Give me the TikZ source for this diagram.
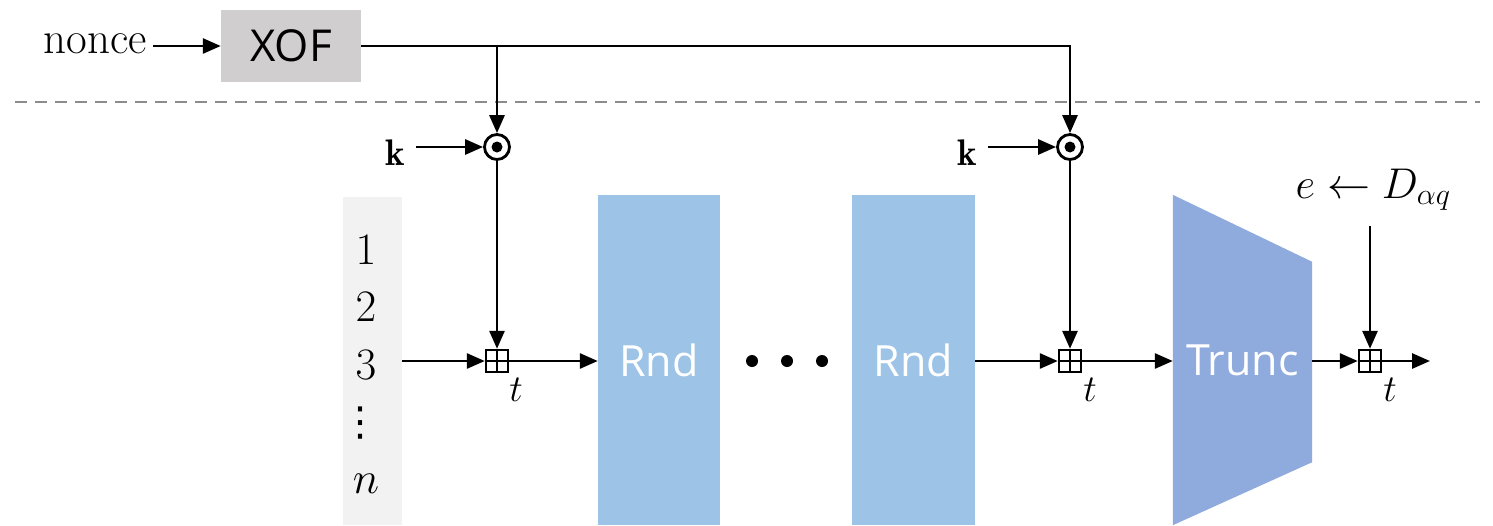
\RequirePackage{fix-cm}
\documentclass[tikz,border=0pt]{standalone}
\usepackage{fontspec}
\newfontfamily\sansf{Open Sans}
\newfontfamily\dejavu{DejaVu Sans}
\usetikzlibrary{arrows.meta,calc}
\definecolor{xofgray}{HTML}{D0CECE}
\definecolor{colgray}{HTML}{F2F2F2}
\definecolor{rndblue}{HTML}{9DC3E6}
\definecolor{truncblue}{HTML}{8FAADC}
\definecolor{dashgray}{HTML}{8C8C8C}
\begin{document}
\begin{tikzpicture}[x=1pt,y=-1pt,
  arr/.style={line width=2.8pt,-{Triangle[length=18pt,width=15pt]}},
  big/.style={font=\fontsize{45}{50}\selectfont},
  blk/.style={draw=none,inner sep=0,text=white,font=\sansf\fontsize{43}{50}\selectfont},
  odotc/.style={circle,draw,line width=2.8pt,minimum size=25pt,inner sep=0,fill=white,
    path picture={\fill[black] (path picture bounding box.center) circle (5.5pt);}},
  bplus/.style={rectangle,draw,line width=2.4pt,minimum size=22pt,inner sep=0,fill=white,
    path picture={\draw[black,line width=2.4pt] (path picture bounding box.north)--(path picture bounding box.south)
      (path picture bounding box.west)--(path picture bounding box.east);}},
  tlab/.style={font=\fontsize{38}{42}\selectfont,inner sep=0},
  klab/.style={font=\fontsize{37}{40}\selectfont,inner sep=0pt,inner xsep=11pt},
  num/.style={font=\fontsize{45}{50}\selectfont,inner sep=0}
]
\useasboundingbox (0,0) rectangle (1493,525);

% top part
\node[big,inner sep=0pt,inner xsep=6pt] (nonce) at (95,44) {nonce};
\node[fill=xofgray,minimum width=140pt,minimum height=72pt,inner sep=0,
  font=\sansf\fontsize{44}{50}\selectfont] (xof) at (291,46) {XOF};
\draw[arr] (nonce.east |- xof.west) -- (xof.west);

\draw[dashgray,line width=2.5pt,dash pattern=on 12pt off 8pt] (15,102) -- (1480,102);

% odots
\node[odotc] (od1) at (497,147) {};
\node[odotc] (od2) at (1070,147) {};
\node[klab] (k1) at (395,153) {$\mathbf{k}$};
\node[klab] (k2) at (967,153) {$\mathbf{k}$};
\draw[arr] (k1.east |- od1.west) -- (od1.west);
\draw[arr] (k2.east |- od2.west) -- (od2.west);

\draw[arr] (xof.east) -| (od2.north);
\draw[arr] (od1.north |- xof.east) -- (od1.north);

% number column
\node[fill=colgray,minimum width=59pt,minimum height=328pt,inner sep=0] (col) at (372.5,361) {};
\node[num] (n1) at (366,250) {$1$};
\node[num] (n2) at (366,307) {$2$};
\node[num] (n3) at (366,365) {$3$};
\node[inner sep=0,font=\dejavu\fontsize{40}{44}\selectfont] (n4) at (360,423) {⋮};
\node[num] (n5) at (366,484) {$n$};

% boxplus nodes
\node[bplus] (bp1) at (497,361) {};
\node[bplus] (bp2) at (1070,361) {};
\node[bplus] (bp3) at (1370,361) {};
\node[tlab] (t1) at (516,390) {$t$};
\node[tlab] (t2) at (1090,390) {$t$};
\node[tlab] (t3) at (1390,390) {$t$};

\draw[arr] (od1.south) -- (bp1.north);
\draw[arr] (od2.south) -- (bp2.north);

% Rnd boxes
\node[blk,fill=rndblue,minimum width=122pt,minimum height=330pt] (r1) at (659,360) {Rnd};
\node[blk,fill=rndblue,minimum width=123pt,minimum height=330pt] (r2) at (913.5,360) {Rnd};

% dots
\fill (752,361) circle (6pt);
\fill (787,361) circle (6pt);
\fill (822,361) circle (6pt);

% Trunc
\node[minimum width=139pt,minimum height=330pt,inner sep=0] (tr) at (1242.5,360) {};
\fill[truncblue] (tr.north west) -- ($(tr.north east)+(0,67)$) -- ($(tr.south east)+(0,-63)$) -- (tr.south west) -- cycle;
\node[blk] (trt) at (tr.center) {Trunc};

% connectors
\draw[arr] (col.east |- bp1.west) -- (bp1.west);
\draw[arr] (bp1.east) -- (r1.west |- bp1.east);
\draw[arr] (r2.east |- bp2.west) -- (bp2.west);
\draw[arr] (bp2.east) -- (tr.west |- bp2.east);
\draw[arr] (tr.east |- bp3.west) -- (bp3.west);
\coordinate (out) at (1430,361);
\draw[arr] (bp3.east) -- (out);

\node[font=\fontsize{43}{46}\selectfont,inner sep=0] (elab) at (1373,190) {$e \leftarrow D_{\alpha q}$};
\coordinate (etop) at (1370,226);
\draw[arr] (etop) -- (bp3.north);
\end{tikzpicture}
\end{document}
